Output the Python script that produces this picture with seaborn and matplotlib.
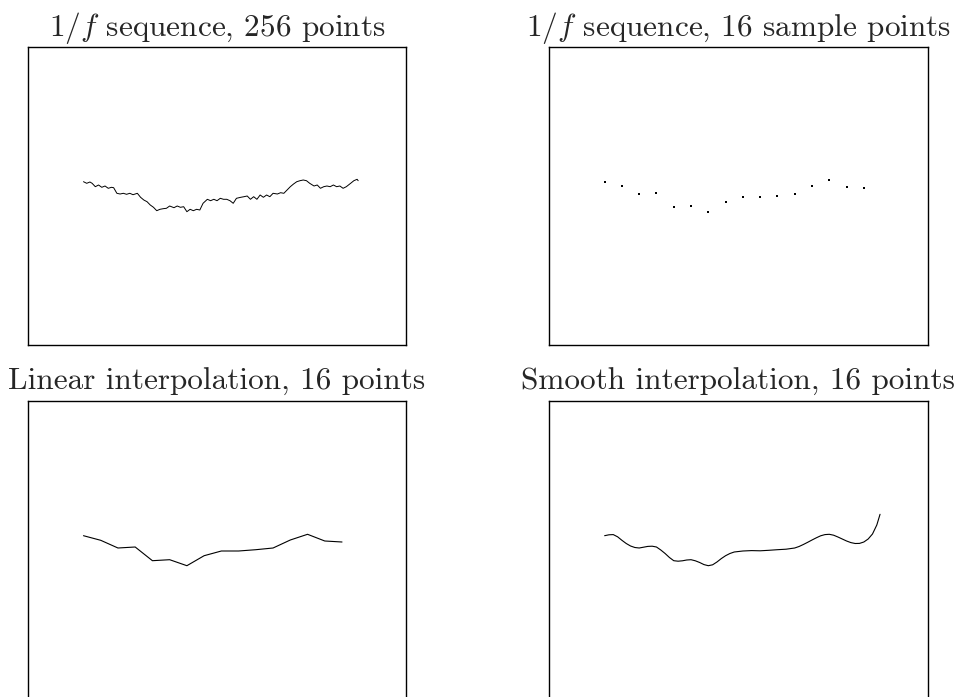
import matplotlib
matplotlib.use("Agg")
import matplotlib.pyplot as plt
import seaborn as sns
import pandas as pd

sns.set_style("white")
plt.rcParams["font.family"] = ["cmr10", "DejaVu Serif"]
plt.rcParams["mathtext.fontset"] = "cm"
plt.rcParams["axes.formatter.use_mathtext"] = True

# 1/f sequence (read at about every 3rd index of 256)
seq_idx = [0, 3, 6, 8, 11, 14, 17, 20, 23, 26, 28, 31, 34, 37, 40, 43, 46, 50, 53, 56,
           59, 62, 65, 68, 71, 74, 77, 80, 84, 87, 90, 93, 96, 99, 102, 105, 108, 111, 115, 118,
           121, 124, 127, 130, 133, 136, 139, 142, 146, 149, 152, 155, 158, 161, 164, 167, 170, 173, 176, 180,
           183, 186, 189, 192, 195, 198, 201, 204, 207, 210, 214, 217, 220, 223, 226, 229, 232, 235, 238, 241,
           244, 248, 251, 254, 255]
seq_val = [14.3, 12.7, 14.0, 12.7, 9.3, 11.0, 8.7, 10.0, 7.7, 8.7, 8.3, 2.7, 2.0, 2.7, 1.7, 2.7, 1.3, 2.7, -1.3, -4.0,
           -5.7, -9.0, -11.3, -14.7, -13.3, -12.7, -12.3, -10.0, -11.7, -10.0, -11.3, -10.7, -15.7, -13.3, -14.7, -13.3, -14.0, -7.3, -3.3, -4.7,
           -3.3, -4.7, -2.3, -3.3, -3.3, -4.7, -7.3, -2.3, -1.3, -0.7, 0.0, -3.3, -0.7, -3.3, 1.0, -1.3, 1.0, -0.7, 2.7, 2.0,
           3.3, 2.7, 6.0, 9.3, 12.0, 14.3, 15.3, 16.0, 15.3, 12.7, 10.0, 11.0, 7.7, 9.3, 10.0, 9.3, 11.0, 9.3, 10.0, 7.7,
           9.3, 12.7, 15.3, 16.7, 15.3]

# 16 sample points
sample_idx = [0, 16, 32, 48, 64, 80, 96, 112, 128, 144, 160, 176, 192, 208, 224, 240]
sample_val = [14.3, 9.7, 2.0, 3.0, -10.7, -9.7, -15.7, -5.7, -1.0, -1.0, 0.3, 2.0, 10.0, 15.7, 9.0, 8.0]

# smooth interpolation curve
smooth_idx = [0, 4, 8, 12, 16, 20, 24, 28, 32, 36, 40, 44, 48, 52, 56, 60, 64, 68, 72, 76,
              80, 84, 88, 92, 96, 100, 104, 108, 112, 116, 120, 128, 136, 144, 152, 160, 168, 176, 180, 184,
              188, 192, 196, 200, 204, 208, 212, 216, 220, 224, 228, 232, 236, 240, 244, 248, 252, 255]
smooth_val = [14.3, 15.2, 15.4, 13.2, 9.7, 6.5, 4.0, 2.5, 2.0, 2.8, 3.6, 3.8, 3.0, 0.0, -3.5, -7.5, -10.7, -11.2, -10.8, -10.0,
              -9.7, -10.8, -12.5, -14.6, -15.7, -14.8, -12.0, -8.6, -5.7, -3.5, -2.0, -1.0, -0.6, -0.8, -0.3, 0.3, 0.8, 2.0, 3.5, 5.5,
              7.7, 10.0, 12.2, 14.2, 15.4, 15.7, 14.8, 13.0, 11.0, 9.0, 7.4, 6.5, 6.6, 8.0, 11.0, 16.0, 25.0, 35.7]

titles = ["$1/f$ sequence, 256 points", "$1/f$ sequence, 16 sample points",
          "Linear interpolation, 16 points", "Smooth interpolation, 16 points"]

W, H = 962, 697
fig = plt.figure(figsize=(W / 100, H / 100), dpi=100)

def make_ax(left, top, right, bottom):
    ax = fig.add_axes([left / W, 1 - bottom / H, (right - left) / W, (bottom - top) / H])
    ax.set_xlim(-51.5, 299.4)
    ax.set_ylim(-149, 149)
    for s in ax.spines.values():
        s.set_linewidth(1.0)
        s.set_color("black")
        s.set_visible(True)
    return ax

ax1 = make_ax(28, 47, 406, 345)
ax2 = make_ax(549, 47, 928, 345)
ax3 = make_ax(28, 401, 406, 699)
ax4 = make_ax(549, 401, 928, 699)

seq_df = pd.DataFrame({"x": seq_idx, "y": seq_val})
samp_df = pd.DataFrame({"x": sample_idx, "y": sample_val})
smooth_df = pd.DataFrame({"x": smooth_idx, "y": smooth_val})

sns.lineplot(data=seq_df, x="x", y="y", ax=ax1, color="black", linewidth=0.7, sort=False)
sns.scatterplot(data=samp_df, x="x", y="y", ax=ax2, color="black", s=2, marker="s", linewidth=0)
sns.lineplot(data=samp_df, x="x", y="y", ax=ax3, color="black", linewidth=0.8, sort=False)
sns.lineplot(data=smooth_df, x="x", y="y", ax=ax4, color="black", linewidth=0.8, sort=False)

for ax, t in zip([ax1, ax2, ax3, ax4], titles):
    ax.set_xlabel("")
    ax.set_ylabel("")
    ax.set_xticks([])
    ax.set_yticks([])
    ax.set_xlim(-51.5, 299.4)
    ax.set_ylim(-149, 149)
    ax.set_title(t, fontsize=22.5, pad=8)

fig.savefig("out.png", dpi=100)
